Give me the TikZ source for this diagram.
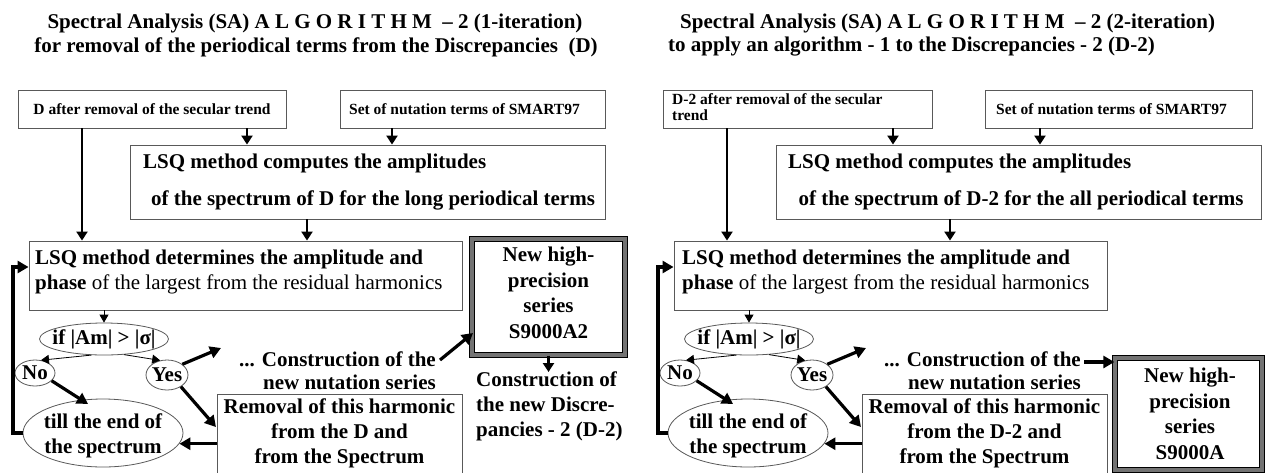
\documentclass[tikz,border=0pt]{standalone}
\usepackage{fontspec}
\setmainfont{Liberation Serif}
\usetikzlibrary{arrows.meta,shapes.geometric}
\newcommand{\bigf}{\fontsize{21}{25}\selectfont\bfseries}
\newcommand{\smf}{\fontsize{15.5}{16.5}\selectfont\bfseries}
\begin{document}
\begin{tikzpicture}[x=1pt,y=-1pt,
  box/.style={draw=black!65, line width=0.9pt, inner sep=0pt, rectangle},
  ell/.style={draw=black!65, line width=0.8pt, ellipse, inner sep=0pt},
  bt/.style={font=\bigf, inner sep=0pt},
  sm/.style={font=\smf, inner sep=0pt},
  varr/.style={line width=2.6pt, -{Triangle[length=9pt,width=11pt]}},
  thk/.style={line width=3.2pt, -{Triangle[length=11pt,width=12pt]}},
  tarr/.style={line width=0.8pt, -{Triangle[length=8pt,width=9pt]}},
  heavy/.style={draw=black, double=black!55, double distance=3.5pt, line width=1.3pt, inner sep=0pt, rectangle}]
\useasboundingbox (0,0) rectangle (1265,472);
\fill[white] (0,0) rectangle (1265,472);

% ---------------- LEFT PANEL ----------------
\node[bt] (t1) at (315,23) {Spectral Analysis (SA) A L G O R I T H M \ – 2 (1-iteration)};
\node[bt] (t2) at (316,47) {for removal of the periodical terms from the Discrepancies \ (D)};

\node[box, minimum width=268pt, minimum height=38pt, font=\smf] (A) at (152,109) {D after removal of the secular trend};
\node[box, minimum width=265pt, minimum height=38pt, font=\smf] (B) at (472.5,109) {\hspace*{-16pt}Set of nutation terms of SMART97};
\node[box, minimum width=475pt, minimum height=74pt] (C) at (367.5,182) {};
\node[bt, anchor=west] (C1) at (143,163) {LSQ method computes the amplitudes};
\node[bt] (C2) at (373,200) {of the spectrum of D for the long periodical terms};
\node[box, minimum width=433pt, minimum height=69pt] (D) at (245.5,275.5) {};
\node[bt, anchor=west] (D1) at (35,259) {LSQ method determines the amplitude and};
\node[bt, anchor=west] (D2) at (35,284) {phase \mdseries of the largest from the residual harmonics};
\node[heavy, minimum width=153pt, minimum height=116pt] (E) at (548.5,297) {};
\node[bt, align=center] (Et) at (548.5,293) {New high-\\[0.5pt]precision\\[0.5pt]series\\[0.5pt]S9000A2};
\node[bt, align=left, anchor=north west] (F) at (476,372) {Construction of\\the new Discre-\\pancies - 2 (D-2)};

\node[ell, minimum width=129pt, minimum height=32pt] (if) at (104,339) {};
\node[bt] (ift) at (104,339) {if |Am| > |σ|};
\node[ell, minimum width=40pt, minimum height=26pt] (No) at (35,373) {};
\node[bt] (Not) at (35,373) {No};
\node[ell, minimum width=42pt, minimum height=30pt] (Yes) at (167,375) {};
\node[bt] (Yest) at (167,375) {Yes};
\node[ell, minimum width=160pt, minimum height=68pt] (till) at (103,433) {};
\node[bt, align=center] (tillt) at (103,436) {till the end of\\the spectrum};
\node[bt, align=right, anchor=east, font=\fontsize{21}{23}\selectfont\bfseries] (con) at (436,371) {... Construction of the\\new nutation series};
\node[box, minimum width=245pt, minimum height=87pt] (R) at (339.5,437.5) {};
\node[bt, align=center] (Rt) at (339.5,433) {Removal of this harmonic\\from the D and\\from the Spectrum};

\coordinate (x247) at (247,0);
\coordinate (x392) at (392,0);
\coordinate (x307) at (307,0);
\coordinate (x82) at (82,0);
\coordinate (lp) at (13,267);
\coordinate (tipC) at (221,348);
\coordinate (tipR) at (216,427);
\coordinate (tipT) at (88,404);
\coordinate (tipE) at (473,333);
\coordinate (srcE) at (440,360);
\coordinate (tipF) at (548.5,372);

\draw[varr] (x247 |- A.south) -- (x247 |- C.north);
\draw[varr] (x392 |- B.south) -- (x392 |- C.north);
\draw[varr] (x307 |- C.south) -- (x307 |- D.north);
\draw[varr] (x82 |- A.south) -- (x82 |- D.north);
\draw[tarr] (if.north |- D.south) -- (if.north);
\draw[tarr] (if.232) -- (No.65);
\draw[tarr] (if.-38) -- (Yes.115);
\draw[thk] (Yes.35) -- (tipC);
\draw[thk] (Yes.-40) -- (tipR);
\draw[thk] (No.-25) -- (tipT);
\draw[thk] (R.west |- till.-8) -- (till.-8);
\draw[thk] (till.west) -| (lp) -- (lp -| D.west);
\draw[thk] (srcE) -- (tipE);
\draw[varr] (E.south) -- (tipF);

% ---------------- RIGHT PANEL ----------------
\node[bt, anchor=west] (u1) at (680,23) {Spectral Analysis (SA) A L G O R I T H M \ – 2 (2-iteration)};
\node[bt, anchor=west] (u2) at (668,47) {to apply an algorithm - 1 to the Discrepancies - 2 (D-2)};

\begin{scope}[xshift=645pt]
\node[box, minimum width=269pt, minimum height=38pt] (A2) at (152.5,109) {};
\node[sm, align=left, anchor=north west] (A2t) at (27,93) {D-2 after removal of the secular\\trend};
\node[box, minimum width=267pt, minimum height=38pt, font=\smf] (B2) at (473.5,109) {\hspace*{-14pt}Set of nutation terms of SMART97};
\node[box, minimum width=485pt, minimum height=74pt] (C2b) at (373.5,182) {};
\node[bt, anchor=west] (C21) at (143,163) {LSQ method computes the amplitudes};
\node[bt] (C22) at (376,200) {of the spectrum of D-2 for the all periodical terms};
\node[box, minimum width=433pt, minimum height=69pt] (D2b) at (245.5,275.5) {};
\node[bt, anchor=west] (D21) at (37,259) {LSQ method determines the amplitude and};
\node[bt, anchor=west] (D22) at (37,284) {phase \mdseries of the largest from the residual harmonics};
\node[heavy, minimum width=147pt, minimum height=112pt] (E2) at (543.5,414) {};
\node[bt, align=center] (E2t) at (545,414) {New high-\\[0.5pt]precision\\[0.5pt]series\\[0.5pt]S9000A};

\node[ell, minimum width=129pt, minimum height=32pt] (if2) at (104,339) {};
\node[bt] (if2t) at (104,339) {if |Am| > |σ|};
\node[ell, minimum width=40pt, minimum height=26pt] (No2) at (35,373) {};
\node[bt] (No2t) at (35,373) {No};
\node[ell, minimum width=42pt, minimum height=30pt] (Yes2) at (167,375) {};
\node[bt] (Yes2t) at (167,375) {Yes};
\node[ell, minimum width=160pt, minimum height=68pt] (till2) at (103,433) {};
\node[bt, align=center] (till2t) at (103,436) {till the end of\\the spectrum};
\node[bt, align=right, anchor=east, font=\fontsize{21}{23}\selectfont\bfseries] (con2) at (436,371) {... Construction of the\\new nutation series};
\node[box, minimum width=245pt, minimum height=87pt] (R2) at (339.5,437.5) {};
\node[bt, align=center] (R2t) at (339.5,433) {Removal of this harmonic\\from the D-2 and\\from the Spectrum};

\coordinate (y248) at (248,0);
\coordinate (y395) at (395,0);
\coordinate (y305) at (305,0);
\coordinate (y82) at (82,0);
\coordinate (lp2) at (13,267);
\coordinate (tipC2) at (221,348);
\coordinate (tipR2) at (216,427);
\coordinate (tipT2) at (88,404);
\coordinate (srcE2) at (439,362);

\draw[varr] (y248 |- A2.south) -- (y248 |- C2b.north);
\draw[varr] (y395 |- B2.south) -- (y395 |- C2b.north);
\draw[varr] (y305 |- C2b.south) -- (y305 |- D2b.north);
\draw[varr] (y82 |- A2.south) -- (y82 |- D2b.north);
\draw[tarr] (if2.north |- D2b.south) -- (if2.north);
\draw[tarr] (if2.232) -- (No2.65);
\draw[tarr] (if2.-38) -- (Yes2.115);
\draw[thk] (Yes2.35) -- (tipC2);
\draw[thk] (Yes2.-40) -- (tipR2);
\draw[thk] (No2.-25) -- (tipT2);
\draw[thk] (R2.west |- till2.-8) -- (till2.-8);
\draw[thk] (till2.west) -| (lp2) -- (lp2 -| D2b.west);
\draw[thk] (srcE2) -- (srcE2 -| E2.west);
\end{scope}
\end{tikzpicture}
\end{document}
